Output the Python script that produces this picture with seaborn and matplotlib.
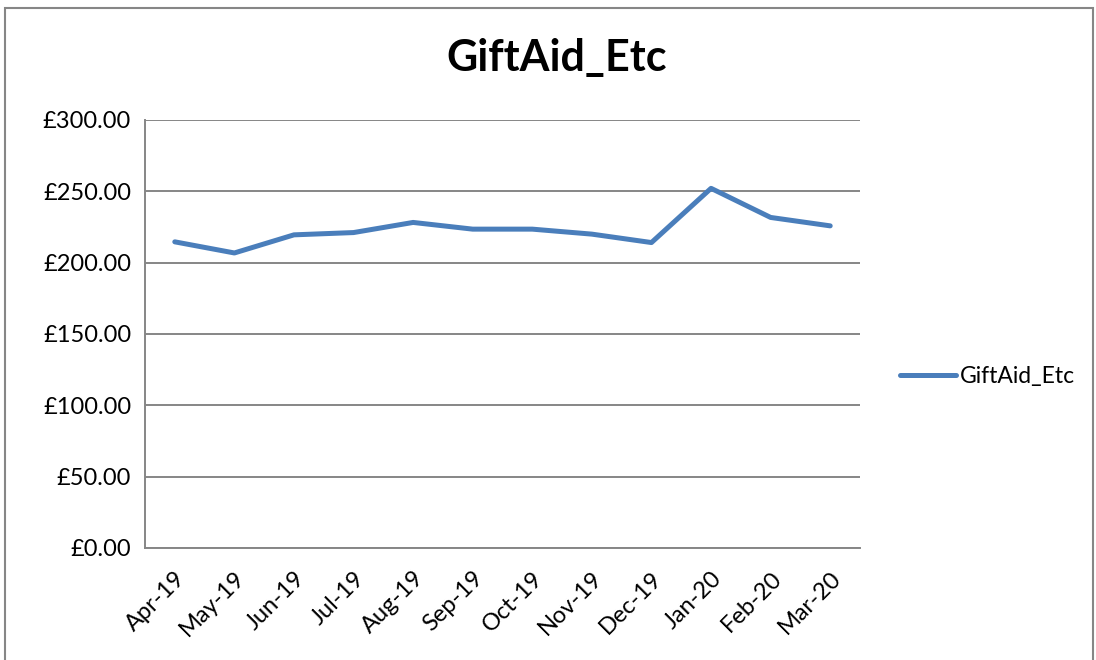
import matplotlib
matplotlib.use("Agg")
import matplotlib.pyplot as plt
import seaborn as sns
import pandas as pd
import numpy as np
from matplotlib.patches import Rectangle

months = ["Apr-19", "May-19", "Jun-19", "Jul-19", "Aug-19", "Sep-19",
          "Oct-19", "Nov-19", "Dec-19", "Jan-20", "Feb-20", "Mar-20"]
gift_aid = [214.6, 206.8, 219.5, 221.1, 228.2, 223.5,
            223.5, 220.0, 214.1, 252.1, 231.7, 225.8]
y_ticks = [0, 50, 100, 150, 200, 250, 300]

sns.set_style("white")
plt.rcParams["font.family"] = ["Lato", "DejaVu Sans"]
plt.rcParams["text.color"] = "black"
plt.rcParams["xtick.labelcolor"] = "black"
plt.rcParams["ytick.labelcolor"] = "black"

df = pd.DataFrame({"pos": np.arange(len(months)), "value": gift_aid,
                   "series": "GiftAid_Etc"})

fig = plt.figure(figsize=(10.96, 6.6), dpi=100)
ax = fig.add_axes([145 / 1096, 1 - 548 / 660, 715 / 1096, 428 / 660])

grey = "#868686"
sns.lineplot(data=df, x="pos", y="value", hue="series", palette=["#4A7EBB"],
             linewidth=3.6, ax=ax)

ax.set_xlim(-0.5, len(months) - 0.5)
ax.set_ylim(0, 300)
ax.set_yticks(y_ticks)
ax.set_yticklabels([f"£{v:.2f}" for v in y_ticks], fontsize=17)
ax.set_xticks(np.arange(len(months)))
ax.set_xticklabels(months, rotation=45, ha="right", rotation_mode="anchor",
                   fontsize=17)
ax.set_xticks(np.arange(-0.5, len(months)), minor=True)
ax.tick_params(axis="x", which="major", length=0, pad=14)
ax.tick_params(axis="x", which="minor", length=6, color=grey, width=1.3)
ax.tick_params(axis="y", which="major", length=6, color=grey, width=1.3, pad=4)
ax.set_xlabel("")
ax.set_ylabel("")

ax.grid(axis="y", color=grey, linewidth=1.4)
ax.grid(axis="x", visible=False)
for s in ["top", "right"]:
    ax.spines[s].set_visible(False)
for s in ["left", "bottom"]:
    ax.spines[s].set_color(grey)
    ax.spines[s].set_linewidth(1.4)

fig.suptitle("GiftAid_Etc", fontsize=31, fontweight="bold", y=1 - 58 / 660,
             va="center", x=557 / 1096, color="black")

ax.legend(loc="center left", bbox_to_anchor=(900 / 1096, 1 - 377 / 660),
          bbox_transform=fig.transFigure, frameon=False, fontsize=16.5,
          borderpad=0, borderaxespad=0, handlelength=2.45, handletextpad=0.15)

fig.patches.append(Rectangle((5 / 1096, -0.1), 1088 / 1096, 1.1 - 8 / 660,
                             transform=fig.transFigure, fill=False,
                             edgecolor=grey, linewidth=1.5))

plt.savefig("out.png", dpi=100)
